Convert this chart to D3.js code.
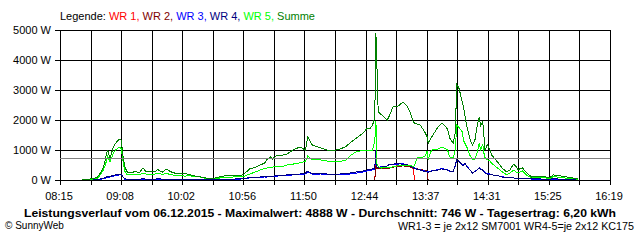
<!DOCTYPE html>
<html>
<head>
<meta charset="utf-8">
<script src="https://cdn.jsdelivr.net/npm/d3@7"></script>
<style>
  body { margin: 0; background: #fff; }
  text { font-family: "Liberation Sans", Arial, sans-serif; }
</style>
</head>
<body>
<div id="chart"></div>
<script>
  // sample times (HH:MM)
  var times = [
    "08:34","08:40","08:44","08:48","08:50","08:53","08:55","08:56","08:57","08:59",
    "09:02","09:04","09:07","09:09","09:10","09:12","09:14","09:17","09:21","09:25",
    "09:28","09:31","09:34","09:39","09:41","09:45","09:49","09:52","09:56","10:01",
    "10:05","10:09","10:14","10:18","10:23","10:27","10:31","10:36","10:42","10:47",
    "10:53","10:56","11:00","11:02","11:07","11:11","11:15","11:17","11:20","11:22",
    "11:26","11:30","11:35","11:40","11:46","11:51","11:53","11:57","12:04","12:10",
    "12:15","12:21","12:26","12:30","12:36","12:42","12:45","12:48","12:50","12:52",
    "12:53","12:54","12:55","12:58","13:03","13:05","13:08","13:12","13:17","13:20",
    "13:23","13:26","13:27","13:29","13:32","13:36","13:38","13:39","13:42","13:47",
    "13:51","13:54","13:56","13:58","14:01","14:03","14:04","14:06","14:09","14:10",
    "14:11","14:12","14:13","14:16","14:18","14:20","14:22","14:24","14:25","14:27",
    "14:28","14:29","14:31","14:33","14:35","14:40","14:44","14:48","14:51","14:54",
    "14:56","14:58","15:02","15:06","15:10","15:15","15:20","15:26","15:29","15:35",
    "15:41","15:46","15:51"
  ];

  var summe = [
    20,30,40,100,200,400,700,900,980,730,
    1100,1230,1350,1330,900,450,270,240,280,250,
    400,270,280,270,350,260,370,280,230,200,
    220,180,130,110,70,50,60,110,150,140,
    160,170,300,370,420,500,560,670,770,700,
    830,820,870,1000,1100,1000,1430,1170,1070,1000,
    970,1030,1100,1230,1400,1570,1720,1730,1830,2070,
    4888,3670,2270,2170,2000,2150,2440,2450,2600,2480,
    2270,1930,1900,1870,1830,1600,1450,1230,1430,1730,
    1900,1800,1700,1400,1230,1600,3200,3070,2610,2440,
    2230,2000,1780,1330,1170,1300,1780,2110,1800,1950,
    1500,1000,1170,1050,830,600,400,270,330,530,
    470,350,400,230,100,130,120,80,170,140,
    100,70,30
  ];

  var wr5 = [
    20,20,30,60,150,330,500,670,800,600,
    900,1000,1100,1050,750,300,170,180,200,170,
    230,200,180,200,230,190,220,180,160,150,
    130,140,110,100,60,40,40,70,100,100,
    110,100,180,200,270,330,380,400,420,430,
    450,440,500,530,570,620,800,670,670,630,
    600,620,650,800,950,980,1000,1000,1000,1300,
    1950,500,450,400,420,420,440,470,500,500,
    490,450,470,730,760,770,950,700,1000,1020,
    1100,1050,1000,770,750,1000,1830,1750,1610,1330,
    1250,1170,1100,800,670,700,900,1230,1000,1200,
    900,750,670,650,550,400,280,170,230,330,
    280,230,300,150,70,90,80,50,110,90,
    60,50,20
  ];

  var wr4 = [
    10,10,10,20,30,60,80,100,110,120,
    150,170,190,190,120,40,30,30,30,30,
    40,30,30,30,40,30,30,30,30,30,
    30,30,30,30,20,20,20,30,30,30,
    40,50,70,80,100,100,110,110,120,130,
    140,150,170,190,200,230,300,200,220,200,
    180,200,220,230,270,300,330,350,370,400,
    1000,420,420,430,470,520,530,540,530,520,
    470,400,400,350,330,280,270,250,300,330,
    370,350,330,300,270,500,680,620,500,500,
    560,540,450,320,230,280,330,400,360,330,
    280,230,200,180,170,150,100,80,70,70,
    60,60,60,50,40,40,30,30,40,30,
    20,20,10
  ];

  var wr3 = [
    10,10,10,10,20,40,60,80,90,100,
    130,150,170,180,110,30,30,30,20,20,
    30,30,20,30,30,20,30,20,20,20,
    20,20,20,20,10,10,10,20,20,30,
    30,40,60,70,80,90,100,100,110,120,
    130,140,150,170,190,200,280,200,200,190,
    180,190,200,200,230,270,300,320,340,370,
    950,430,420,440,470,530,530,530,540,520,
    480,420,410,370,340,300,280,260,310,340,
    380,360,340,290,280,480,660,640,520,500,
    540,520,460,330,240,290,330,410,370,340,
    290,240,220,200,170,150,110,80,80,70,
    60,60,60,50,30,30,30,20,30,30,
    20,10,10
  ];

  var wr2 = [
    null,null,null,null,null,null,null,null,null,null,
    null,null,null,null,null,null,null,null,null,null,
    null,null,null,null,null,null,null,null,null,null,
    null,null,null,null,null,null,null,null,null,null,
    null,null,null,null,null,null,null,null,null,null,
    null,null,null,null,null,null,null,null,null,null,
    null,null,null,null,null,null,null,null,null,0,
    420,380,390,380,380,400,430,450,470,460,
    440,400,400,380,350,320,300,0,null,null,
    null,null,null,null,null,null,null,null,null,null,
    null,null,null,null,null,null,null,null,null,null,
    null,null,null,null,null,null,null,null,null,null,
    null,null,null,null,null,null,null,null,null,null,
    null,null,null
  ];

  var wr1 = [
    null,null,null,null,null,null,null,null,null,null,
    null,null,null,null,null,null,null,null,null,null,
    null,null,null,null,null,null,null,null,null,null,
    null,null,null,null,null,null,null,null,null,null,
    null,null,null,null,null,null,null,null,null,null,
    null,null,null,null,null,null,null,null,null,null,
    null,null,null,null,null,null,null,null,null,0,
    560,380,380,400,400,400,420,480,490,480,
    430,380,0,null,null,null,null,null,null,null,
    null,null,null,null,null,null,null,null,null,null,
    null,null,null,null,null,null,null,null,null,null,
    null,null,null,null,null,null,null,null,null,null,
    null,null,null,null,null,null,null,null,null,null,
    null,null,null
  ];

  var seriesNames = ["WR 1", "WR 2", "WR 3", "WR 4", "WR 5", "Summe"];
  var seriesColors = ["#ff0000", "#800000", "#0000ff", "#000080", "#00ff00", "#008000"];
  var seriesValues = [wr1, wr2, wr3, wr4, wr5, summe];

  var timeStart = "08:15", timeEnd = "16:19";
  var xTickLabels = ["08:15", "09:08", "10:02", "10:56", "11:50", "12:44", "13:37", "14:31", "15:25", "16:19"];
  var yTicks = [0, 1000, 2000, 3000, 4000, 5000];
  var average = 746;

  var titleText = "Leistungsverlauf vom 06.12.2015 - Maximalwert: 4888 W - Durchschnitt: 746 W - Tagesertrag: 6,20 kWh";
  var copyText = "\u00a9 SunnyWeb";
  var noteText = "WR1-3 = je 2x12 SM7001 WR4-5=je 2x12 KC175";

  function toMin(t) {
    var p = t.split(":");
    return +p[0] * 60 + +p[1];
  }

  var width = 640, height = 240;
  var plot = {left: 60, right: 610, top: 30, bottom: 180};

  var svg = d3.select("#chart").append("svg")
      .attr("width", width)
      .attr("height", height)
      .style("display", "block");

  var x = d3.scaleLinear()
      .domain([toMin(timeStart), toMin(timeEnd)])
      .range([plot.left, plot.right]);

  var y = d3.scaleLinear()
      .domain([0, 5000])
      .range([plot.bottom, plot.top]);

  // 18 grid columns, label on every second one
  var d0 = x.domain()[0], d1 = x.domain()[1];
  var xGrid = d3.range(19).map(i => d0 + i * (d1 - d0) / 18);

  var grid = svg.append("g")
      .attr("shape-rendering", "crispEdges")
      .attr("stroke", "#000")
      .attr("stroke-width", 1);

  grid.selectAll(".hline")
      .data(yTicks)
    .enter().append("line")
      .attr("x1", plot.left - 5)
      .attr("x2", plot.right + 0.5)
      .attr("y1", d => Math.round(y(d)) + 0.5)
      .attr("y2", d => Math.round(y(d)) + 0.5);

  grid.selectAll(".vline")
      .data(xGrid)
    .enter().append("line")
      .attr("x1", d => Math.round(x(d)) + 0.5)
      .attr("x2", d => Math.round(x(d)) + 0.5)
      .attr("y1", plot.top)
      .attr("y2", plot.bottom + 5);

  svg.append("g").selectAll("text")
      .data(yTicks)
    .enter().append("text")
      .attr("x", plot.left - 9)
      .attr("y", d => Math.round(y(d)) + 4)
      .attr("text-anchor", "end")
      .style("font-size", "11px")
      .text(d => d + " W");

  svg.append("g").selectAll("text")
      .data(xTickLabels)
    .enter().append("text")
      .attr("x", (d, i) => x(xGrid[i * 2]) - 1)
      .attr("y", 200)
      .attr("text-anchor", "middle")
      .style("font-size", "11px")
      .text(d => d);

  var line = d3.line()
      .defined(d => d.v != null)
      .x(d => x(d.t))
      .y(d => y(d.v));

  var lines = svg.append("g")
      .attr("fill", "none")
      .attr("stroke-width", 1)
      .attr("shape-rendering", "crispEdges");

  seriesValues.forEach((vals, k) => {
    var pts = times.map((t, i) => ({t: toMin(t), v: vals[i]}));
    lines.append("path")
        .datum(pts)
        .attr("stroke", seriesColors[k])
        .attr("d", line);
  });

  svg.append("line")
      .attr("shape-rendering", "crispEdges")
      .attr("stroke", "#808080")
      .attr("x1", plot.left)
      .attr("x2", plot.right)
      .attr("y1", Math.round(y(average)) + 0.5)
      .attr("y2", Math.round(y(average)) + 0.5);

  // legend
  var legend = svg.append("text")
      .attr("x", plot.left)
      .attr("y", 20)
      .style("font-size", "11px");

  legend.append("tspan").attr("fill", "#000").text("Legende: ");
  seriesNames.forEach((n, k) => {
    legend.append("tspan")
        .attr("fill", seriesColors[k])
        .text(n + (k < seriesNames.length - 1 ? ", " : ""));
  });

  svg.append("text")
      .attr("x", width / 2)
      .attr("y", 217)
      .attr("text-anchor", "middle")
      .style("font-size", "11.5px")
      .style("font-weight", "bold")
      .attr("textLength", 592)
      .attr("lengthAdjust", "spacingAndGlyphs")
      .text(titleText);

  svg.append("text")
      .attr("x", 5)
      .attr("y", 229)
      .style("font-size", "10px")
      .text(copyText);

  svg.append("text")
      .attr("x", 634)
      .attr("y", 230)
      .attr("text-anchor", "end")
      .style("font-size", "10.5px")
      .attr("textLength", 236)
      .attr("lengthAdjust", "spacingAndGlyphs")
      .text(noteText);
</script>
</body>
</html>
